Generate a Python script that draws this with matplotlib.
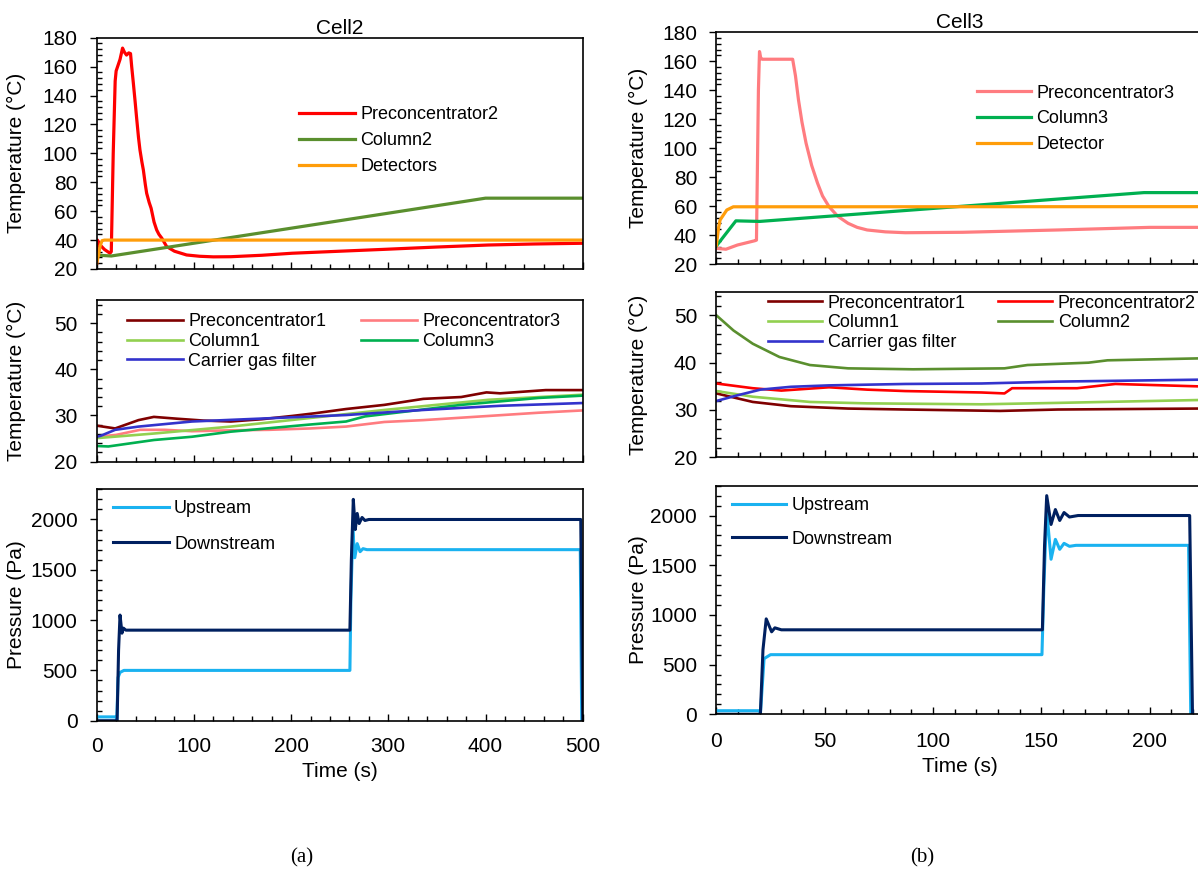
import matplotlib
matplotlib.use("Agg")
import matplotlib.pyplot as plt
from matplotlib.ticker import MultipleLocator, AutoMinorLocator

plt.rcParams['font.family'] = ['Liberation Sans', 'DejaVu Sans']

# ---------------- (a) Cell2 : top panel ----------------
c2_pre2_t = [0, 0.8, 3.5, 8, 13.7, 15, 17, 19, 20, 24, 26.6, 28.5, 30.7, 33, 34.8, 36, 37.7, 39.5, 41, 43,
             44.5, 46.5, 48, 50, 51.4, 54, 56, 59, 61.7, 64, 67, 72, 80, 92.5, 106, 120, 138, 170, 201, 250,
             296, 350, 403, 450, 500]
c2_pre2_T = [24, 40, 36.6, 33.5, 30.9, 32, 100, 150, 157, 165, 172.8, 170, 168, 169.5, 169, 160, 148.6, 136,
             125, 111, 102.4, 94, 88.5, 78.5, 72.4, 66, 62, 52.5, 47, 44, 41.3, 35.5, 32.3, 29.7, 28.8, 28.4,
             28.5, 29.5, 30.9, 32.3, 33.6, 35.2, 36.6, 37.3, 37.8]
c2_col2_t = [0, 5, 15, 400, 500]
c2_col2_T = [29.8, 29.4, 29, 69, 69]
c2_det_t = [0, 2, 3.5, 5.5, 8, 500]
c2_det_T = [24, 30, 36, 39.6, 40, 40]

# ---------------- (a) Cell2 : middle panel ----------------
c2_pre1_t = [0, 19, 43, 58.8, 83, 110, 138, 170, 201, 225, 256.5, 296, 336, 375, 401, 415, 462, 500]
c2_pre1_T = [27.8, 27.2, 29.0, 29.7, 29.3, 28.9, 28.7, 29.2, 29.9, 30.5, 31.4, 32.3, 33.6, 34.0, 35.0, 34.8, 35.5, 35.5]
c2_pre3_t = [0, 20, 44.6, 70, 98, 140, 177, 220, 256.5, 296, 336, 403, 454.5, 500]
c2_pre3_T = [25.4, 25.8, 26.9, 26.9, 26.6, 26.8, 26.9, 27.2, 27.6, 28.6, 29.0, 29.9, 30.6, 31.1]
c2_col1_t = [0, 59, 138, 217, 296, 403, 500]
c2_col1_T = [25.1, 26.1, 27.6, 29.4, 31.2, 33.4, 34.5]
c2_col3_t = [0, 12, 59, 98, 138, 217, 256.5, 276, 316, 375, 454.5, 500]
c2_col3_T = [23.4, 23.3, 24.7, 25.4, 26.5, 28.0, 28.7, 29.8, 30.8, 32.3, 33.8, 34.3]
c2_cgf_t = [0, 4, 19, 43, 98, 177, 256.5, 336, 415, 500]
c2_cgf_T = [25.4, 25.6, 26.9, 27.6, 28.7, 29.4, 30.1, 31.2, 32.1, 32.7]

# ---------------- (a) Cell2 : pressure panel ----------------
c2_up_t = [0, 20, 20.6, 22, 24, 28, 260.5, 261.5, 263.5, 265.5, 268, 271, 274, 278, 497.5, 499]
c2_up_P = [38, 38, 0, 430, 480, 500, 500, 1200, 1900, 1620, 1760, 1680, 1710, 1700, 1700, 0]
c2_dn_t = [0, 21, 22.5, 24, 26, 27.5, 30, 260.5, 262, 264, 266, 268, 270, 273, 276, 280, 498, 500]
c2_dn_P = [0, 0, 700, 1050, 870, 920, 900, 900, 1600, 2200, 1900, 2060, 1960, 2020, 1990, 2000, 2000, 0]

# ---------------- (b) Cell3 : top panel ----------------
c3_pre3_t = [0, 4.4, 9.7, 17.8, 18.5, 19.4, 19.9, 20.5, 21.1, 35.2, 36.5, 37.9, 39.5, 41.4, 44, 46.7, 49,
             52, 56, 60.8, 65, 69.6, 78, 87.2, 113.7, 157.7, 200, 222]
c3_pre3_T = [30.8, 30.2, 33.1, 36.1, 36.5, 140, 166.7, 162, 161.4, 161.4, 150, 133.3, 118, 103.4, 88, 75.8, 67,
             59.6, 53, 48.1, 45.3, 43.5, 42.2, 41.6, 41.9, 43.5, 45.3, 45.3]
c3_col3_t = [0, 9.0, 20, 197.4, 222]
c3_col3_T = [32.5, 49.8, 49.4, 69.3, 69.3]
c3_det_t = [0, 1, 1.7, 4.8, 7.8, 222]
c3_det_T = [33, 45, 50.4, 57.3, 59.5, 59.6]

# ---------------- (b) Cell3 : middle panel ----------------
c3_pre1_t = [0, 16.8, 34.4, 60.8, 87.2, 131, 157.7, 222]
c3_pre1_T = [33.5, 31.7, 30.8, 30.3, 30.1, 29.8, 30.1, 30.3]
c3_pre2_t = [0, 16.8, 30, 52, 69.6, 87.2, 122.4, 133, 136.5, 166.5, 184.2, 222]
c3_pre2_T = [35.6, 34.6, 34.1, 34.8, 34.3, 34.0, 33.7, 33.5, 34.6, 34.6, 35.5, 35.0]
c3_col1_t = [0, 16.8, 43.2, 69.6, 122.4, 157.7, 222]
c3_col1_T = [34.0, 32.8, 31.7, 31.4, 31.2, 31.5, 32.1]
c3_col2_t = [0, 7.9, 16.8, 29.1, 43.2, 60.8, 90.8, 133, 143.6, 171.8, 180.6, 222]
c3_col2_T = [50.0, 46.8, 44.0, 41.2, 39.5, 38.8, 38.6, 38.8, 39.5, 40.0, 40.5, 40.9]
c3_cgf_t = [0, 9.7, 20.3, 34.4, 52, 87.2, 122.4, 157.7, 222]
c3_cgf_T = [31.9, 33.1, 34.3, 34.9, 35.2, 35.5, 35.6, 36.0, 36.4]

# ---------------- (b) Cell3 : pressure panel ----------------
c3_up_t = [0, 20, 20.3, 22, 25, 150.3, 151.2, 152.5, 154.5, 156.5, 158.5, 160.5, 163, 166, 218, 219]
c3_up_P = [36, 36, 0, 560, 600, 600, 1300, 2050, 1560, 1760, 1660, 1720, 1690, 1700, 1700, 0]
c3_dn_t = [0, 20.3, 21.5, 23, 25.5, 27, 30, 150.5, 151.5, 152.5, 154.5, 156.5, 158.5, 160.5, 163, 167, 218.5, 219.8]
c3_dn_P = [0, 0, 650, 960, 830, 870, 850, 850, 1700, 2200, 1910, 2060, 1950, 2030, 1985, 2000, 2000, 0]

# ---------------- colours ----------------
C_PRE1 = '#7F0000'
C_PRE2 = '#FF0000'
C_PRE3 = '#FF7C80'
C_COL1 = '#92D050'
C_COL2 = '#5A8F2E'
C_COL3 = '#00B050'
C_DET = '#FF9D0A'
C_CGF = '#3333CC'
C_UP = '#1AB2F0'
C_DN = '#002060'

W, H = 1198, 873
fig = plt.figure(figsize=(W / 100, H / 100), dpi=100)


def add_ax(x0, ytop, w, h):
    return fig.add_axes([x0 / W, 1 - (ytop + h) / H, w / W, h / H])


def style(ax, xmax, xmajor, ymin, ymax, ymajor, xlabels, xpad=12):
    ax.set_xlim(0, xmax)
    ax.set_ylim(ymin, ymax)
    ax.xaxis.set_major_locator(MultipleLocator(xmajor))
    ax.xaxis.set_minor_locator(AutoMinorLocator(5))
    ax.yaxis.set_major_locator(MultipleLocator(ymajor))
    ax.yaxis.set_minor_locator(AutoMinorLocator(5))
    ax.tick_params(axis='x', which='major', direction='in', length=4.8, width=1.0,
                   pad=xpad, labelsize=15, colors='black')
    ax.tick_params(axis='x', which='minor', direction='in', length=3.6, width=1.0)
    ax.tick_params(axis='y', which='major', direction='out', length=4.8, width=1.0,
                   pad=9, labelsize=15, colors='black')
    ax.tick_params(axis='y', which='minor', direction='in', length=3.6, width=1.0)
    if not xlabels:
        ax.tick_params(axis='x', labelbottom=False)
    for s in ax.spines.values():
        s.set_linewidth(1.2)
        s.set_color('black')


LW_T = 2.3
LW_M = 1.9
LW_P = 2.2

AXW = 486
LX, RX = 96.7, 716.4
LEFT_XMAX = 500
RIGHT_XMAX = AXW / 2.166

# ======== (a) top ========
ax = add_ax(LX, 37.7, AXW, 231.3)
ax.plot(c2_pre2_t, c2_pre2_T, color=C_PRE2, lw=LW_T, label='Preconcentrator2')
ax.plot(c2_col2_t, c2_col2_T, color=C_COL2, lw=LW_T, label='Column2')
ax.plot(c2_det_t, c2_det_T, color=C_DET, lw=LW_T, label='Detectors')
style(ax, LEFT_XMAX, 100, 20, 180, 20, False)
ax.set_title('Cell2', fontsize=15, pad=2.5)
ax.set_ylabel('Temperature (°C)', fontsize=15)
ax.yaxis.set_label_coords((26 - LX) / AXW, 0.5)
ax.legend(loc='upper left', bbox_to_anchor=(299 / W, 1 - 106 / H), bbox_transform=fig.transFigure,
          frameon=False, fontsize=13, handlelength=3.1, handletextpad=0.3, labelspacing=0.5,
          borderpad=0, borderaxespad=0)

# ======== (a) middle ========
ax = add_ax(LX, 300, AXW, 161.7)
l1, = ax.plot(c2_pre1_t, c2_pre1_T, color=C_PRE1, lw=LW_M, label='Preconcentrator1')
l4, = ax.plot(c2_pre3_t, c2_pre3_T, color=C_PRE3, lw=LW_M, label='Preconcentrator3')
l2, = ax.plot(c2_col1_t, c2_col1_T, color=C_COL1, lw=LW_M, label='Column1')
l5, = ax.plot(c2_col3_t, c2_col3_T, color=C_COL3, lw=LW_M, label='Column3')
l3, = ax.plot(c2_cgf_t, c2_cgf_T, color=C_CGF, lw=LW_M, label='Carrier gas filter')
style(ax, LEFT_XMAX, 100, 20, 55, 10, False)
ax.set_ylabel('Temperature (°C)', fontsize=15)
ax.yaxis.set_label_coords((26 - LX) / AXW, 0.5)
ax.legend(handles=[l1, l2, l3, l4, l5], ncol=2, loc='upper left',
          bbox_to_anchor=(127 / W, 1 - 313 / H), bbox_transform=fig.transFigure,
          frameon=False, fontsize=13, handlelength=3.1, handletextpad=0.3, labelspacing=0.16,
          columnspacing=1.9, borderpad=0, borderaxespad=0)

# ======== (a) pressure ========
ax = add_ax(LX, 489.3, AXW, 231.4)
ax.plot(c2_up_t, c2_up_P, color=C_UP, lw=LW_P, label='Upstream')
ax.plot(c2_dn_t, c2_dn_P, color=C_DN, lw=LW_P, label='Downstream')
style(ax, LEFT_XMAX, 100, 0, 2300, 500, True, xpad=12)
ax.set_ylabel('Pressure (Pa)', fontsize=15)
ax.yaxis.set_label_coords((26 - LX) / AXW, 0.5)
ax.set_xlabel('Time (s)', fontsize=15, labelpad=4)
ax.legend(loc='upper left', bbox_to_anchor=(112.7 / W, 1 - 500 / H), bbox_transform=fig.transFigure,
          frameon=False, fontsize=13, handlelength=3.1, handletextpad=0.3, labelspacing=1.03,
          borderpad=0, borderaxespad=0)

# ======== (b) top ========
ax = add_ax(RX, 32.3, AXW, 231.7)
ax.plot(c3_pre3_t, c3_pre3_T, color=C_PRE3, lw=LW_T, label='Preconcentrator3')
ax.plot(c3_col3_t, c3_col3_T, color=C_COL3, lw=LW_T, label='Column3')
ax.plot(c3_det_t, c3_det_T, color=C_DET, lw=LW_T, label='Detector')
style(ax, RIGHT_XMAX, 50, 20, 180, 20, False)
ax.set_title('Cell3', fontsize=15, pad=2.5)
ax.set_ylabel('Temperature (°C)', fontsize=15)
ax.yaxis.set_label_coords((648 - RX) / AXW, 0.5)
ax.legend(loc='upper left', bbox_to_anchor=(977 / W, 1 - 84.5 / H), bbox_transform=fig.transFigure,
          frameon=False, fontsize=13, handlelength=3.0, handletextpad=0.3, labelspacing=0.48,
          borderpad=0, borderaxespad=0)

# ======== (b) middle ========
ax = add_ax(RX, 291.7, AXW, 165.6)
m1, = ax.plot(c3_pre1_t, c3_pre1_T, color=C_PRE1, lw=LW_M, label='Preconcentrator1')
m4, = ax.plot(c3_pre2_t, c3_pre2_T, color=C_PRE2, lw=LW_M, label='Preconcentrator2')
m2, = ax.plot(c3_col1_t, c3_col1_T, color=C_COL1, lw=LW_M, label='Column1')
m5, = ax.plot(c3_col2_t, c3_col2_T, color=C_COL2, lw=LW_M, label='Column2')
m3, = ax.plot(c3_cgf_t, c3_cgf_T, color=C_CGF, lw=LW_M, label='Carrier gas filter')
style(ax, RIGHT_XMAX, 50, 20, 55, 10, False)
ax.set_ylabel('Temperature (°C)', fontsize=15)
ax.yaxis.set_label_coords((648 - RX) / AXW, 0.5)
ax.legend(handles=[m1, m2, m3, m4, m5], ncol=2, loc='upper left',
          bbox_to_anchor=(768 / W, 1 - 294.5 / H), bbox_transform=fig.transFigure,
          frameon=False, fontsize=13, handlelength=3.0, handletextpad=0.3, labelspacing=0.16,
          columnspacing=1.8, borderpad=0, borderaxespad=0)

# ======== (b) pressure ========
ax = add_ax(RX, 485.7, AXW, 228.6)
ax.plot(c3_up_t, c3_up_P, color=C_UP, lw=LW_P, label='Upstream')
ax.plot(c3_dn_t, c3_dn_P, color=C_DN, lw=LW_P, label='Downstream')
style(ax, RIGHT_XMAX, 50, 0, 2300, 500, True, xpad=13)
ax.set_ylabel('Pressure (Pa)', fontsize=15)
ax.yaxis.set_label_coords((648 - RX) / AXW, 0.5)
ax.set_xlabel('Time (s)', fontsize=15, labelpad=4)
ax.legend(loc='upper left', bbox_to_anchor=(731.7 / W, 1 - 497.5 / H), bbox_transform=fig.transFigure,
          frameon=False, fontsize=13, handlelength=3.0, handletextpad=0.3, labelspacing=0.9,
          borderpad=0, borderaxespad=0)

# captions
fig.text(302 / W, 1 - 858 / H, '(a)', family=['Liberation Serif', 'DejaVu Serif'], fontsize=15,
         ha='center', va='center')
fig.text(922 / W, 1 - 858 / H, '(b)', family=['Liberation Serif', 'DejaVu Serif'], fontsize=15,
         ha='center', va='center')

fig.savefig('out.png', dpi=100)
